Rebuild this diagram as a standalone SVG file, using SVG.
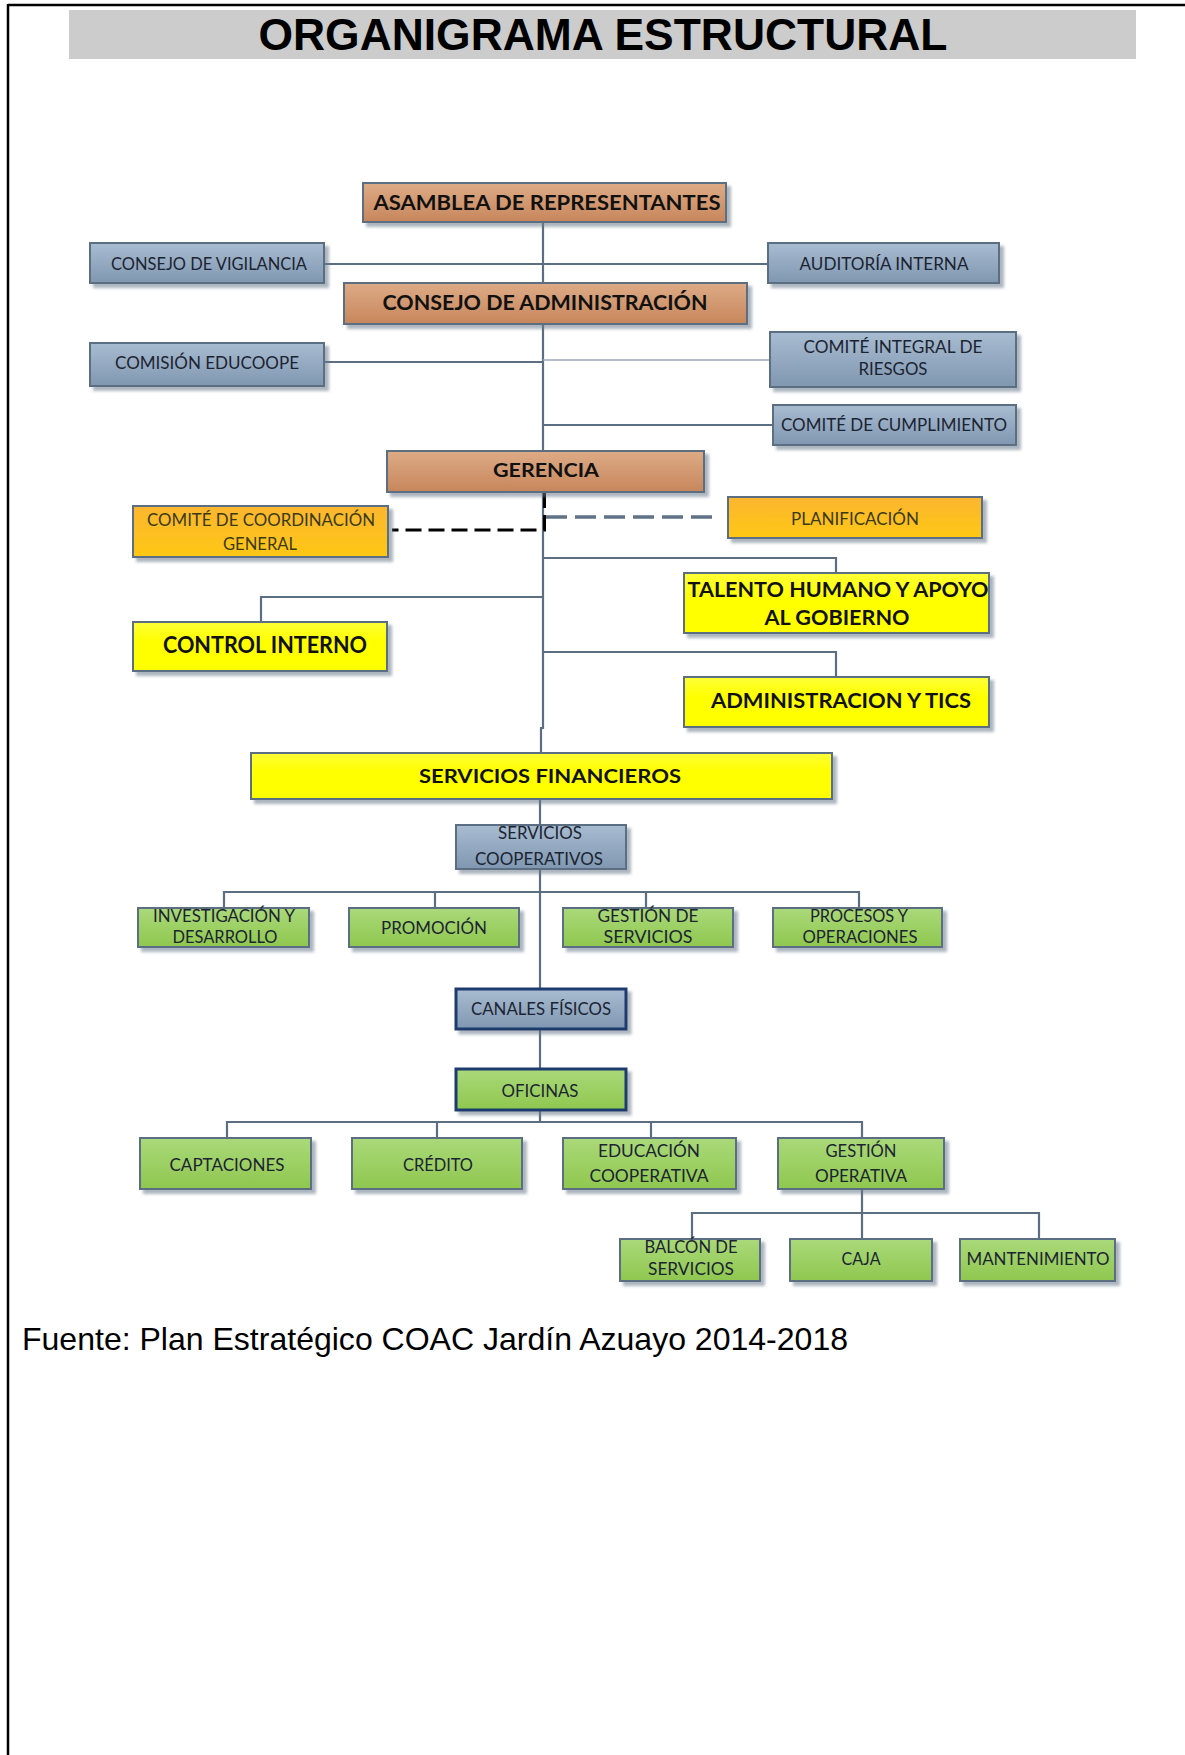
<svg xmlns="http://www.w3.org/2000/svg" width="1185" height="1755" viewBox="0 0 1185 1755">
  <defs>
    <linearGradient id="gOrange" x1="0" y1="0" x2="0" y2="1">
      <stop offset="0" stop-color="#DDAB86"/>
      <stop offset="1" stop-color="#C7865C"/>
    </linearGradient>
    <linearGradient id="gBlue" x1="0" y1="0" x2="0" y2="1">
      <stop offset="0" stop-color="#A8BCD1"/>
      <stop offset="1" stop-color="#8097B1"/>
    </linearGradient>
    <linearGradient id="gGold" x1="0" y1="0" x2="0" y2="1">
      <stop offset="0" stop-color="#FBB631"/>
      <stop offset="1" stop-color="#FFC714"/>
    </linearGradient>
    <linearGradient id="gYellow" x1="0" y1="0" x2="0" y2="1">
      <stop offset="0" stop-color="#FFFF3A"/>
      <stop offset="0.4" stop-color="#FFFF00"/>
      <stop offset="1" stop-color="#FFFF00"/>
    </linearGradient>
    <linearGradient id="gGreen" x1="0" y1="0" x2="0" y2="1">
      <stop offset="0" stop-color="#AAD97A"/>
      <stop offset="1" stop-color="#8FC74F"/>
    </linearGradient>
    <filter id="sh" x="-10%" y="-20%" width="130%" height="160%">
      <feDropShadow dx="4" dy="4" stdDeviation="1.5" flood-color="#6b7a8a" flood-opacity="0.55"/>
    </filter>
  </defs>
  <style>
    .box { stroke: #5B6E82; stroke-width: 2; filter: url(#sh); }
    .dark { stroke: #1F3A6E; stroke-width: 3; }
    .orange { fill: url(#gOrange); }
    .blue { fill: url(#gBlue); }
    .gold { fill: url(#gGold); }
    .yellow { fill: url(#gYellow); }
    .green { fill: url(#gGreen); }
    .lb { font-family: Lato, "Liberation Sans", sans-serif; font-weight: 700; fill: #111111; text-anchor: middle; }
    .ln { font-family: Lato, "Liberation Sans", sans-serif; font-weight: 400; fill: #1C2431; text-anchor: middle; font-size: 17px; }
    .olive { fill: #3A3A14; }
    .conn { fill: none; stroke: #5B6E82; stroke-width: 2.2; }
  </style>

  <!-- page frame -->
  <rect x="0" y="0" width="1185" height="1755" fill="#FFFFFF"/>
  <line x1="8" y1="5" x2="1185" y2="5" stroke="#000" stroke-width="2.5"/>
  <line x1="8" y1="4" x2="8" y2="1755" stroke="#000" stroke-width="2.5"/>

  <!-- title band -->
  <g id="title">
    <rect x="69" y="10" width="1067" height="49" fill="#CCCCCC"/>
    <text x="603" y="50" font-family="'Liberation Sans', Arial, sans-serif" font-weight="700" font-size="44" text-anchor="middle" textLength="689" lengthAdjust="spacingAndGlyphs" fill="#000">ORGANIGRAMA ESTRUCTURAL</text>
  </g>

  <!-- connectors -->
  <g id="connectors">
    <path class="conn" d="M543,222 V451"/>
    <path class="conn" d="M324,264 H768"/>
    <path class="conn" d="M324,362 H543"/>
    <path d="M543,360 H770" fill="none" stroke="#9AA8B6" stroke-width="1.6"/>
    <path class="conn" d="M543,425 H773"/>
    <path class="conn" d="M543,492 V728 H541 V753"/>
    <path class="conn" d="M543,558 H836 V573"/>
    <path class="conn" d="M543,597 H261 V622"/>
    <path class="conn" d="M543,652 H836 V677"/>
    <path d="M544.5,492 V530 H392" fill="none" stroke="#000" stroke-width="3" stroke-dasharray="16 7"/>
    <path d="M546,517 H718" fill="none" stroke="#5F7286" stroke-width="3.5" stroke-dasharray="21 8"/>
    <path class="conn" d="M540,799 V1069"/>
    <path class="conn" d="M224,908 V892 H859 V908 M435,892 V908 M646,892 V908"/>
    <path class="conn" d="M540,1110 V1122 M227,1138 V1122 H862 V1138 M437,1122 V1138 M651,1122 V1138"/>
    <path class="conn" d="M862,1189 V1239 M692,1239 V1213 H1039 V1239"/>
  </g>

  <!-- governance level -->
  <g id="asamblea">
    <rect class="box orange" x="363" y="183" width="363" height="39"/>
    <text class="lb" x="547" y="210" font-size="21" textLength="347" lengthAdjust="spacingAndGlyphs">ASAMBLEA DE REPRESENTANTES</text>
  </g>
  <g id="consejo-vigilancia">
    <rect class="box blue" x="90" y="243" width="234" height="40"/>
    <text class="ln" x="209" y="270" textLength="196" lengthAdjust="spacingAndGlyphs">CONSEJO DE VIGILANCIA</text>
  </g>
  <g id="auditoria-interna">
    <rect class="box blue" x="768" y="243" width="231" height="40"/>
    <text class="ln" x="884" y="270" textLength="169" lengthAdjust="spacingAndGlyphs">AUDITORÍA INTERNA</text>
  </g>
  <g id="consejo-administracion">
    <rect class="box orange" x="344" y="283" width="403" height="41"/>
    <text class="lb" x="545" y="310" font-size="20" textLength="325" lengthAdjust="spacingAndGlyphs">CONSEJO DE ADMINISTRACIÓN</text>
  </g>
  <g id="comision-educoope">
    <rect class="box blue" x="90" y="343" width="234" height="43"/>
    <text class="ln" x="207" y="369" font-size="16" textLength="184" lengthAdjust="spacingAndGlyphs">COMISIÓN EDUCOOPE</text>
  </g>
  <g id="comite-riesgos">
    <rect class="box blue" x="770" y="332" width="246" height="55"/>
    <text class="ln" x="893" y="353" textLength="179" lengthAdjust="spacingAndGlyphs">COMITÉ INTEGRAL DE</text>
    <text class="ln" x="893" y="375" textLength="69" lengthAdjust="spacingAndGlyphs">RIESGOS</text>
  </g>
  <g id="comite-cumplimiento">
    <rect class="box blue" x="773" y="405" width="243" height="40"/>
    <text class="ln" x="894" y="431" textLength="226" lengthAdjust="spacingAndGlyphs">COMITÉ DE CUMPLIMIENTO</text>
  </g>

  <!-- management level -->
  <g id="gerencia">
    <rect class="box orange" x="387" y="451" width="317" height="41"/>
    <text class="lb" x="546" y="477" font-size="19" textLength="106" lengthAdjust="spacingAndGlyphs">GERENCIA</text>
  </g>
  <g id="comite-coordinacion">
    <rect class="box gold" x="133" y="506" width="255" height="51"/>
    <text class="ln olive" x="261" y="526" textLength="228" lengthAdjust="spacingAndGlyphs">COMITÉ DE COORDINACIÓN</text>
    <text class="ln olive" x="260" y="550" textLength="74" lengthAdjust="spacingAndGlyphs">GENERAL</text>
  </g>
  <g id="planificacion">
    <rect class="box gold" x="728" y="497" width="254" height="41"/>
    <text class="ln olive" x="855" y="525" textLength="128" lengthAdjust="spacingAndGlyphs">PLANIFICACIÓN</text>
  </g>
  <g id="talento-humano">
    <rect class="box yellow" x="684" y="573" width="305" height="60"/>
    <text class="lb" x="838" y="597" font-size="21" textLength="301" lengthAdjust="spacingAndGlyphs">TALENTO HUMANO Y APOYO</text>
    <text class="lb" x="837" y="625" font-size="21" textLength="145" lengthAdjust="spacingAndGlyphs">AL GOBIERNO</text>
  </g>
  <g id="control-interno">
    <rect class="box yellow" x="133" y="622" width="254" height="49"/>
    <text class="lb" x="265" y="653" font-size="22" textLength="204" lengthAdjust="spacingAndGlyphs">CONTROL INTERNO</text>
  </g>
  <g id="administracion-tics">
    <rect class="box yellow" x="684" y="677" width="305" height="50"/>
    <text class="lb" x="841" y="708" font-size="21" textLength="260" lengthAdjust="spacingAndGlyphs">ADMINISTRACION Y TICS</text>
  </g>

  <!-- operations -->
  <g id="servicios-financieros">
    <rect class="box yellow" x="251" y="753" width="581" height="46"/>
    <text class="lb" x="550" y="783" font-size="19" textLength="262" lengthAdjust="spacingAndGlyphs">SERVICIOS FINANCIEROS</text>
  </g>
  <g id="servicios-cooperativos">
    <rect class="box blue" x="456" y="825" width="170" height="44"/>
    <text class="ln" x="540" y="839" textLength="84" lengthAdjust="spacingAndGlyphs">SERVICIOS</text>
    <text class="ln" x="539" y="865" textLength="128" lengthAdjust="spacingAndGlyphs">COOPERATIVOS</text>
  </g>
  <g id="investigacion">
    <rect class="box green" x="138" y="908" width="171" height="39"/>
    <text class="ln" x="224" y="922" font-size="16" textLength="142" lengthAdjust="spacingAndGlyphs">INVESTIGACIÓN Y</text>
    <text class="ln" x="225" y="943" font-size="16" textLength="105" lengthAdjust="spacingAndGlyphs">DESARROLLO</text>
  </g>
  <g id="promocion">
    <rect class="box green" x="349" y="908" width="170" height="39"/>
    <text class="ln" x="434" y="934" textLength="106" lengthAdjust="spacingAndGlyphs">PROMOCIÓN</text>
  </g>
  <g id="gestion-servicios">
    <rect class="box green" x="563" y="908" width="170" height="39"/>
    <text class="ln" x="648" y="922" font-size="16" textLength="101" lengthAdjust="spacingAndGlyphs">GESTIÓN DE</text>
    <text class="ln" x="648" y="943" font-size="16" textLength="89" lengthAdjust="spacingAndGlyphs">SERVICIOS</text>
  </g>
  <g id="procesos-operaciones">
    <rect class="box green" x="773" y="908" width="169" height="39"/>
    <text class="ln" x="859" y="922" font-size="16" textLength="98" lengthAdjust="spacingAndGlyphs">PROCESOS Y</text>
    <text class="ln" x="860" y="943" font-size="16" textLength="115" lengthAdjust="spacingAndGlyphs">OPERACIONES</text>
  </g>
  <g id="canales-fisicos">
    <rect class="box blue dark" x="456" y="989" width="170" height="40"/>
    <text class="ln" x="541" y="1015" textLength="140" lengthAdjust="spacingAndGlyphs">CANALES FÍSICOS</text>
  </g>
  <g id="oficinas">
    <rect class="box green dark" x="456" y="1069" width="170" height="41"/>
    <text class="ln" x="540" y="1097" textLength="77" lengthAdjust="spacingAndGlyphs">OFICINAS</text>
  </g>
  <g id="captaciones">
    <rect class="box green" x="140" y="1138" width="171" height="51"/>
    <text class="ln" x="227" y="1171" textLength="115" lengthAdjust="spacingAndGlyphs">CAPTACIONES</text>
  </g>
  <g id="credito">
    <rect class="box green" x="352" y="1138" width="170" height="51"/>
    <text class="ln" x="438" y="1171" textLength="70" lengthAdjust="spacingAndGlyphs">CRÉDITO</text>
  </g>
  <g id="educacion-cooperativa">
    <rect class="box green" x="563" y="1138" width="173" height="51"/>
    <text class="ln" x="649" y="1157" textLength="102" lengthAdjust="spacingAndGlyphs">EDUCACIÓN</text>
    <text class="ln" x="649" y="1182" textLength="119" lengthAdjust="spacingAndGlyphs">COOPERATIVA</text>
  </g>
  <g id="gestion-operativa">
    <rect class="box green" x="778" y="1138" width="166" height="51"/>
    <text class="ln" x="861" y="1157" textLength="71" lengthAdjust="spacingAndGlyphs">GESTIÓN</text>
    <text class="ln" x="861" y="1182" textLength="92" lengthAdjust="spacingAndGlyphs">OPERATIVA</text>
  </g>
  <g id="balcon-servicios">
    <rect class="box green" x="620" y="1239" width="140" height="42"/>
    <text class="ln" x="691" y="1253" font-size="16" textLength="93" lengthAdjust="spacingAndGlyphs">BALCÓN DE</text>
    <text class="ln" x="691" y="1275" font-size="16" textLength="86" lengthAdjust="spacingAndGlyphs">SERVICIOS</text>
  </g>
  <g id="caja">
    <rect class="box green" x="790" y="1239" width="142" height="42"/>
    <text class="ln" x="861" y="1265" font-size="16" textLength="39" lengthAdjust="spacingAndGlyphs">CAJA</text>
  </g>
  <g id="mantenimiento">
    <rect class="box green" x="960" y="1239" width="155" height="42"/>
    <text class="ln" x="1038" y="1265" font-size="16" textLength="143" lengthAdjust="spacingAndGlyphs">MANTENIMIENTO</text>
  </g>

  <!-- source note -->
  <text x="22" y="1350" font-family="'Liberation Sans', Arial, sans-serif" font-size="32" fill="#000" textLength="826" lengthAdjust="spacingAndGlyphs">Fuente: Plan Estratégico COAC Jardín Azuayo 2014-2018</text>
</svg>
